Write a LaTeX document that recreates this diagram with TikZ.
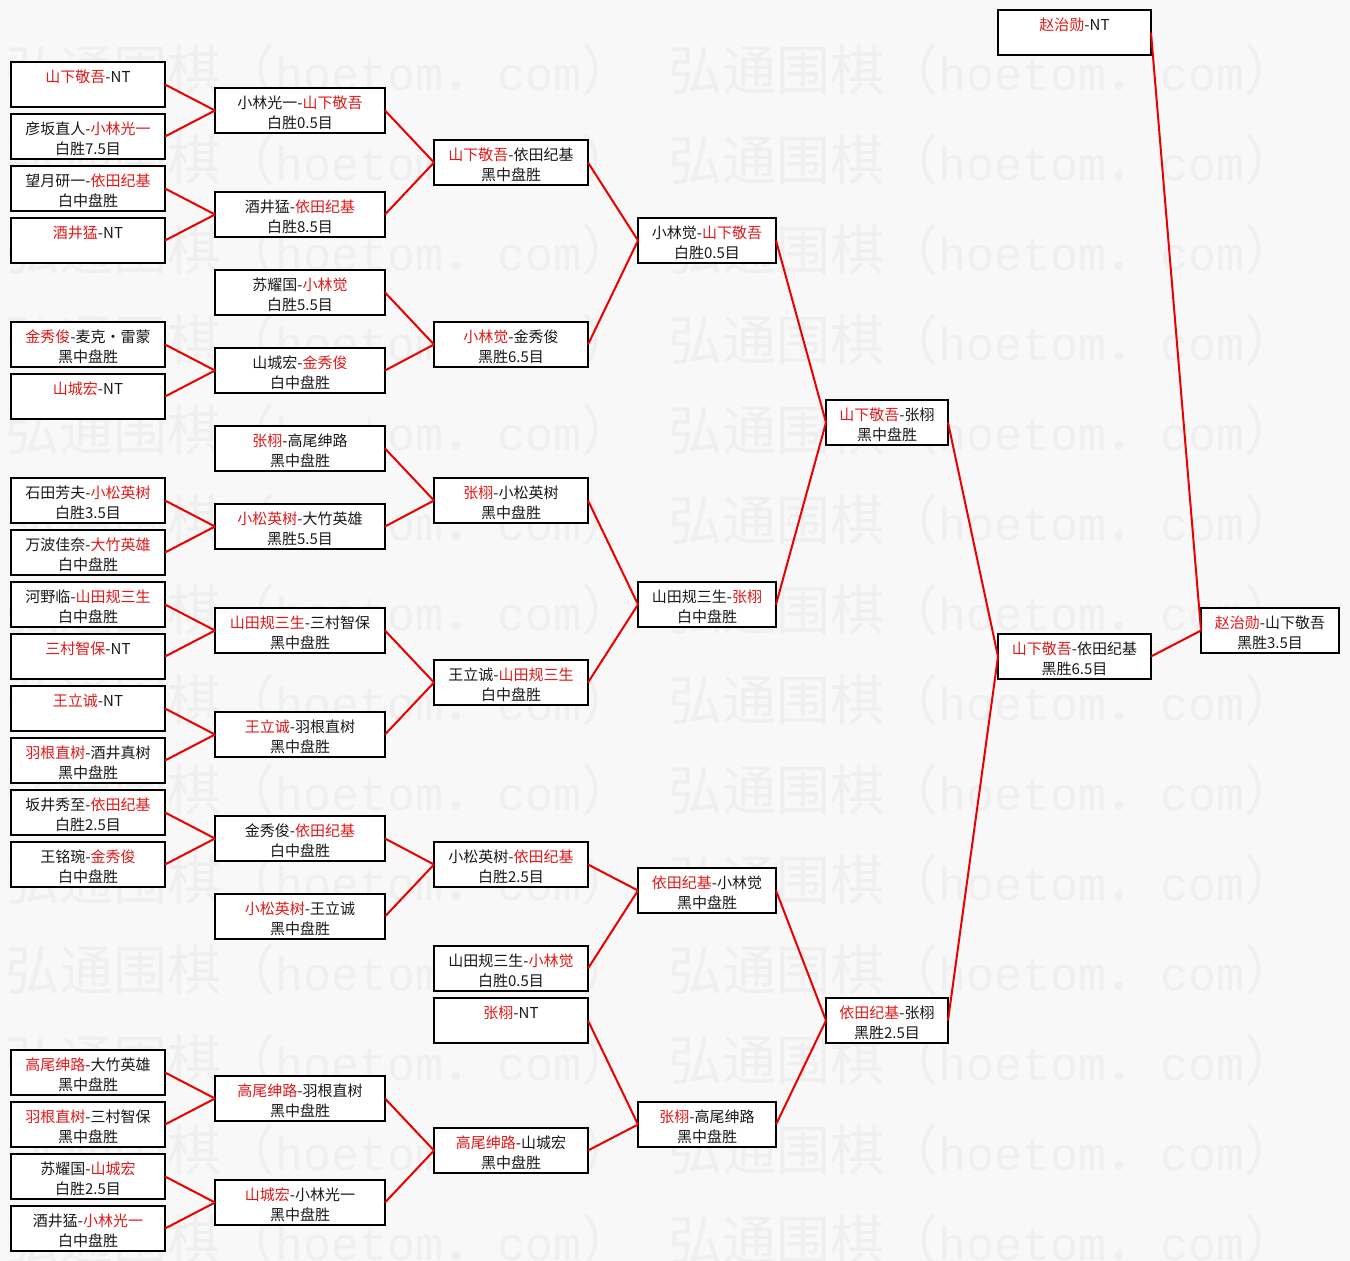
\documentclass[tikz,border=0pt]{standalone}
\usepackage{fontspec}
\setmainfont{Noto Sans CJK SC}
\newfontfamily\wmlatin{Liberation Mono}
\usetikzlibrary{calc}
\definecolor{wred}{RGB}{225,25,25}
\definecolor{lred}{RGB}{235,0,0}
\definecolor{bgc}{RGB}{248,248,248}
\definecolor{wmc}{RGB}{239,239,239}
\definecolor{ink}{RGB}{25,25,25}
\newcommand{\rd}[1]{\textcolor{wred}{#1}}
\newcommand{\wmtext}{弘通围棋（{\wmlatin\fontsize{46.7}{50}\selectfont hoetom}．{\wmlatin\fontsize{46.7}{50}\selectfont com}）}
% name, x, ytop, width, line1, line2
\newcommand{\bx}[6]{%
  \node[box, minimum width=#4pt] (#1) at (#2,#3) {};
  \node[txt] (#1-l1) at ($(#1.north)+(0,15)$) {#5};
  \node[txt] (#1-l2) at ($(#1.north)+(0,35)$) {#6};}
\newcommand{\bxn}[5]{%
  \node[box, minimum width=#4pt] (#1) at (#2,#3) {};
  \node[txt] (#1-l1) at ($(#1.north)+(0,15)$) {#5};}
\begin{document}
\begin{tikzpicture}[x=1pt,y=-1pt,
  box/.style={draw=black, line width=2pt, fill=white, minimum height=45pt, inner sep=0pt, outer sep=0pt, anchor=north west},
  txt/.style={font=\fontsize{15}{16}\selectfont, text=ink, inner sep=0pt},
  conn/.style={draw=lred, line width=2pt},
  wmk/.style={font=\fontsize{54}{60}\selectfont, text=wmc, anchor=west, inner sep=0pt}]
\useasboundingbox (0,0) rectangle (1350,1261);
\fill[bgc] (0,0) rectangle (1350,1261);
% watermark
\foreach \r in {0,...,13} {
  \node[wmk] (wa-\r) at (5,70+90*\r) {\wmtext};
  \node[wmk] (wb-\r) at (668,70+90*\r) {\wmtext};
}
% column 1
\bxn{c1a}{11}{62}{154}{\rd{山下敬吾}-NT}
\bx{c1b}{11}{114}{154}{彦坂直人-\rd{小林光一}}{白胜7.5目}
\bx{c1c}{11}{166}{154}{望月研一-\rd{依田纪基}}{白中盘胜}
\bxn{c1d}{11}{218}{154}{\rd{酒井猛}-NT}
\bx{c1e}{11}{322}{154}{\rd{金秀俊}-麦克·雷蒙}{黑中盘胜}
\bxn{c1f}{11}{374}{154}{\rd{山城宏}-NT}
\bx{c1g}{11}{478}{154}{石田芳夫-\rd{小松英树}}{白胜3.5目}
\bx{c1h}{11}{530}{154}{万波佳奈-\rd{大竹英雄}}{白中盘胜}
\bx{c1i}{11}{582}{154}{河野临-\rd{山田规三生}}{白中盘胜}
\bxn{c1j}{11}{634}{154}{\rd{三村智保}-NT}
\bxn{c1k}{11}{686}{154}{\rd{王立诚}-NT}
\bx{c1l}{11}{738}{154}{\rd{羽根直树}-酒井真树}{黑中盘胜}
\bx{c1m}{11}{790}{154}{坂井秀至-\rd{依田纪基}}{白胜2.5目}
\bx{c1n}{11}{842}{154}{王铭琬-\rd{金秀俊}}{白中盘胜}
\bx{c1o}{11}{1050}{154}{\rd{高尾绅路}-大竹英雄}{黑中盘胜}
\bx{c1p}{11}{1102}{154}{\rd{羽根直树}-三村智保}{黑中盘胜}
\bx{c1q}{11}{1154}{154}{苏耀国-\rd{山城宏}}{白胜2.5目}
\bx{c1r}{11}{1206}{154}{酒井猛-\rd{小林光一}}{白中盘胜}
% column 2
\bx{c2a}{215}{88}{170}{小林光一-\rd{山下敬吾}}{白胜0.5目}
\bx{c2b}{215}{192}{170}{酒井猛-\rd{依田纪基}}{白胜8.5目}
\bx{c2c}{215}{270}{170}{苏耀国-\rd{小林觉}}{白胜5.5目}
\bx{c2d}{215}{348}{170}{山城宏-\rd{金秀俊}}{白中盘胜}
\bx{c2e}{215}{426}{170}{\rd{张栩}-高尾绅路}{黑中盘胜}
\bx{c2f}{215}{504}{170}{\rd{小松英树}-大竹英雄}{黑胜5.5目}
\bx{c2g}{215}{608}{170}{\rd{山田规三生}-三村智保}{黑中盘胜}
\bx{c2h}{215}{712}{170}{\rd{王立诚}-羽根直树}{黑中盘胜}
\bx{c2i}{215}{816}{170}{金秀俊-\rd{依田纪基}}{白中盘胜}
\bx{c2j}{215}{894}{170}{\rd{小松英树}-王立诚}{黑中盘胜}
\bx{c2k}{215}{1076}{170}{\rd{高尾绅路}-羽根直树}{黑中盘胜}
\bx{c2l}{215}{1180}{170}{\rd{山城宏}-小林光一}{黑中盘胜}
% column 3
\bx{c3a}{434}{140}{154}{\rd{山下敬吾}-依田纪基}{黑中盘胜}
\bx{c3b}{434}{322}{154}{\rd{小林觉}-金秀俊}{黑胜6.5目}
\bx{c3c}{434}{478}{154}{\rd{张栩}-小松英树}{黑中盘胜}
\bx{c3d}{434}{660}{154}{王立诚-\rd{山田规三生}}{白中盘胜}
\bx{c3e}{434}{842}{154}{小松英树-\rd{依田纪基}}{白胜2.5目}
\bx{c3f}{434}{946}{154}{山田规三生-\rd{小林觉}}{白胜0.5目}
\bxn{c3g}{434}{998}{154}{\rd{张栩}-NT}
\bx{c3h}{434}{1128}{154}{\rd{高尾绅路}-山城宏}{黑中盘胜}
% column 4
\bx{c4a}{638}{218}{138}{小林觉-\rd{山下敬吾}}{白胜0.5目}
\bx{c4b}{638}{582}{138}{山田规三生-\rd{张栩}}{白中盘胜}
\bx{c4c}{638}{868}{138}{\rd{依田纪基}-小林觉}{黑中盘胜}
\bx{c4d}{638}{1102}{138}{\rd{张栩}-高尾绅路}{黑中盘胜}
% column 5
\bx{c5a}{826}{400}{122}{\rd{山下敬吾}-张栩}{黑中盘胜}
\bx{c5b}{826}{998}{122}{\rd{依田纪基}-张栩}{黑胜2.5目}
% column 6
\bx{c6a}{998}{634}{153}{\rd{山下敬吾}-依田纪基}{黑胜6.5目}
\bxn{c6b}{998}{10}{153}{\rd{赵治勋}-NT}
% column 7
\bx{c7a}{1201}{608}{138}{\rd{赵治勋}-山下敬吾}{黑胜3.5目}
% connectors
\foreach \a/\b in {c1a/c2a,c1b/c2a,c1c/c2b,c1d/c2b,c1e/c2d,c1f/c2d,c1g/c2f,c1h/c2f,
  c1i/c2g,c1j/c2g,c1k/c2h,c1l/c2h,c1m/c2i,c1n/c2i,c1o/c2k,c1p/c2k,c1q/c2l,c1r/c2l,
  c2a/c3a,c2b/c3a,c2c/c3b,c2d/c3b,c2e/c3c,c2f/c3c,c2g/c3d,c2h/c3d,c2i/c3e,c2j/c3e,c2k/c3h,c2l/c3h,
  c3a/c4a,c3b/c4a,c3c/c4b,c3d/c4b,c3e/c4c,c3f/c4c,c3g/c4d,c3h/c4d,
  c4a/c5a,c4b/c5a,c4c/c5b,c4d/c5b,c5a/c6a,c5b/c6a,c6a/c7a,c6b/c7a}
  \draw[conn] (\a.east) -- (\b.west);
\end{tikzpicture}
\end{document}
